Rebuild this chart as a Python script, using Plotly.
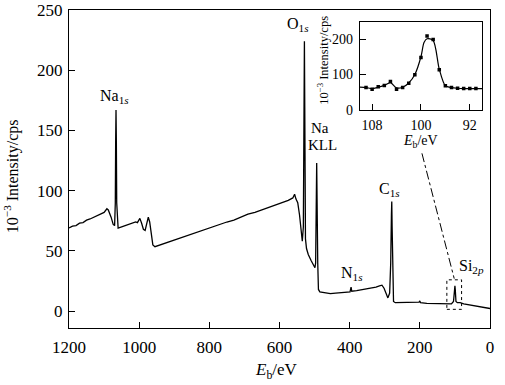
import plotly.graph_objects as go

# Main survey spectrum (binding energy eV, 10^-3 intensity cps)
energy = [1200, 1190, 1180, 1170, 1160, 1150, 1140, 1130, 1120, 1110, 1100, 1092, 1088, 1080, 1074,
          1070, 1068, 1067, 1066, 1065, 1064, 1062, 1060, 1050, 1040, 1030, 1020, 1010, 1005, 998,
          993, 988, 983, 978, 974, 970, 965, 961, 955, 945, 930, 910, 890, 870, 850, 830, 810, 790,
          770, 750, 730, 710, 690, 670, 650, 630, 610, 590, 575, 562, 557, 553, 548, 543, 538, 535,
          532, 530, 529, 528, 526, 523, 518, 510, 503, 499, 497, 495, 494, 493, 491, 489, 485, 470,
          455, 440, 420, 405, 399, 396, 394, 380, 360, 340, 325, 315, 308, 302, 296, 291, 286, 283,
          281, 280, 279, 277, 275, 270, 250, 230, 210, 202, 200, 198, 180, 160, 140, 125, 110, 104,
          101, 100, 99, 97, 93, 85, 75, 65, 55, 40, 25, 10, 0]
intensity = [69, 70.5, 71, 73, 73.5, 75.5, 76.5, 78, 79, 81, 82, 85, 84, 78, 72,
             71, 90, 140, 167, 140, 90, 70, 69, 70, 71, 72.5, 73, 74, 73.5, 77,
             73, 68, 67, 72, 78, 74, 62, 55, 53.5, 54.5, 56.5, 58, 60.5, 62, 64, 66.5, 68, 70,
             72, 74, 75.5, 78, 80.5, 82, 84, 86.5, 88.5, 90.5, 92, 94, 97, 93, 90, 80, 65, 58,
             70, 160, 224, 170, 60, 52, 47, 42, 38, 36, 40, 90, 123, 95, 40, 18, 16, 15,
             14.5, 15, 15.5, 16, 16, 20, 16.5, 17, 18, 19, 20, 21, 21.5, 19, 14, 11, 15, 40,
             80, 91, 70, 20, 8, 7, 7, 7, 7, 7.5, 8.5, 7, 6.5, 6.2, 6, 5.8, 6, 8,
             15, 21, 18, 8, 7, 7, 6, 5.5, 5, 4, 3.5, 2.5, 2.2]

# Inset: Si 2p region
inset_e = [109, 108, 107, 106, 105, 104, 103, 102, 101, 100, 99, 98, 97, 96, 95, 94, 93, 92, 91]
inset_i = [63, 58, 65, 69, 80, 58, 63, 75, 99, 148, 209, 199, 113, 68, 63, 61, 60, 60, 60]
fit_e = [110, 109, 108, 107, 106, 105, 104, 103, 102, 101, 100, 99.5, 99, 98, 97, 96, 95, 94, 93, 92, 91, 90]
fit_i = [64, 63, 60, 64, 69, 77, 62, 64, 76, 100, 150, 190, 201, 196, 115, 68, 63, 61, 60, 60, 60, 60]

xticks = [1200, 1000, 800, 600, 400, 200, 0]
yticks = [0, 50, 100, 150, 200, 250]

FONT = "Liberation Serif"

fig = go.Figure()
fig.add_trace(go.Scatter(x=energy, y=intensity, mode="lines",
                         line=dict(color="black", width=1.3), showlegend=False))
fig.add_trace(go.Scatter(x=fit_e, y=fit_i, mode="lines", xaxis="x2", yaxis="y2",
                         line=dict(color="black", width=1.2, shape="spline", smoothing=0.8),
                         showlegend=False))
fig.add_trace(go.Scatter(x=inset_e, y=inset_i, mode="markers", xaxis="x2", yaxis="y2",
                         marker=dict(color="black", size=3.5, symbol="square"), showlegend=False))

def axis_common(size):
    return dict(showline=True, linecolor="black", linewidth=1, mirror=True, automargin=False,
                ticks="inside", ticklen=6, tickcolor="black", showgrid=False, zeroline=False,
                tickfont=dict(family=FONT, size=size, color="black"))

fig.update_layout(
    width=505, height=385,
    margin=dict(l=69, r=15, t=10, b=57),
    paper_bgcolor="white", plot_bgcolor="white",
    font=dict(family=FONT, size=16, color="black"),
    xaxis=dict(range=[1200, 0], tickvals=xticks, ticklabelstandoff=4, **axis_common(17)),
    yaxis=dict(range=[-14, 250], tickvals=yticks, ticklabelstandoff=2, **axis_common(17)),
    xaxis2=dict(domain=[0.691, 0.981], anchor="y2", range=[110, 90], tickvals=[108, 100, 92],
                ticklabelstandoff=2, **axis_common(14)),
    yaxis2=dict(domain=[0.686, 0.962], anchor="x2", range=[0, 248], tickvals=[0, 100, 200],
                ticklabelstandoff=3, **axis_common(14)),
)

# Dashed box around Si2p peak and dash-dot connector
fig.add_shape(type="rect", xref="x", yref="y", x0=123, x1=81, y0=1.5, y1=26,
              line=dict(color="black", width=1, dash="dot"))
fig.add_shape(type="line", xref="x", yref="y", x0=194, y0=131, x1=102, y1=27,
              line=dict(color="black", width=1, dash="dashdot"))

labels = [
    (1070, 178, "Na<sub>1<i>s</i></sub>", 16),
    (548, 238, "O<sub>1<i>s</i></sub>", 16),
    (484, 152, "Na", 15),
    (477, 138, "KLL", 15),
    (392, 31, "N<sub>1<i>s</i></sub>", 16),
    (286, 101, "C<sub>1<i>s</i></sub>", 16),
    (52, 37, "Si<sub>2<i>p</i></sub>", 16),
]
for x, y, t, s in labels:
    fig.add_annotation(x=x, y=y, xref="x", yref="y", text=t, showarrow=False,
                       xanchor="center", yanchor="middle", borderpad=0,
                       font=dict(family=FONT, size=s, color="black"))

# Axis titles
titles = [
    (-0.135, 0.478, -90, "10<sup>−3</sup> Intensity/cps", 16),
    (0.494, -0.135, 0, "<i>E</i><sub>b</sub>/eV", 17),
    (0.603, 0.843, -90, "10<sup>−3</sup> Intensity/cps", 12.5),
    (0.834, 0.588, 0, "<i>E</i><sub>b</sub>/eV", 14),
]
for x, y, ang, t, s in titles:
    fig.add_annotation(x=x, y=y, xref="paper", yref="paper", textangle=ang, text=t,
                       showarrow=False, xanchor="center", yanchor="middle", borderpad=0,
                       font=dict(family=FONT, size=s, color="black"))

fig.write_html("out.html", config={"displayModeBar": False},
               post_script="document.body.style.margin='0';")
